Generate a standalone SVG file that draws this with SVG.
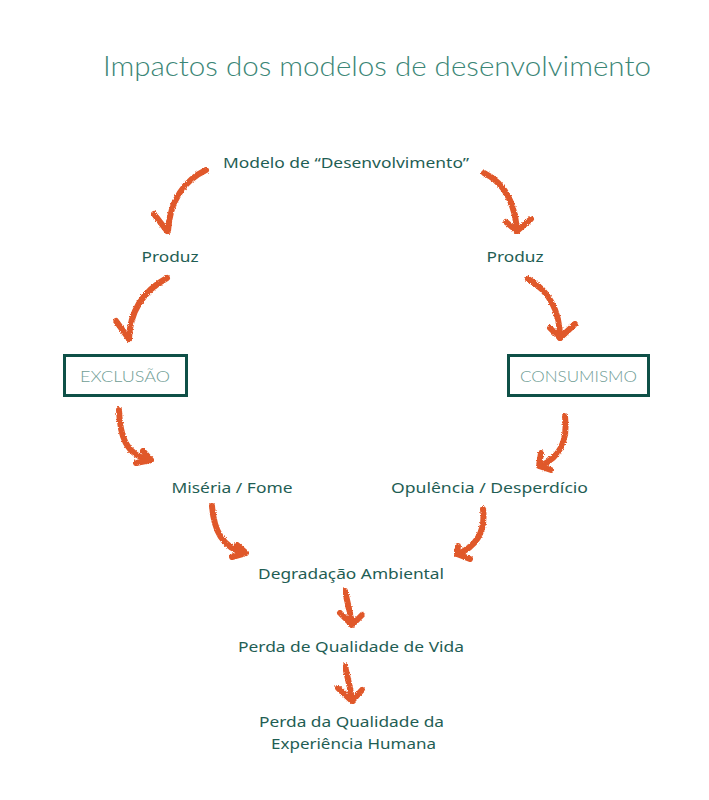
<svg xmlns="http://www.w3.org/2000/svg" width="709" height="800" viewBox="0 0 709 800">
<style>
.t{font-family:"Noto Sans","Liberation Sans",sans-serif;font-size:15px;fill:#1f5e54;text-anchor:middle}
.title{font-family:Lato,"Noto Sans",sans-serif;font-weight:300;font-size:28px;fill:#3b8676}
.bt{font-family:Lato,"Noto Sans",sans-serif;font-weight:300;font-size:16px;fill:#6f9d95;text-anchor:middle}
.box{fill:#fff;stroke:#0f5047;stroke-width:3}
.arr{fill:none;stroke:#e0582a;stroke-width:6;stroke-linecap:round;stroke-linejoin:round;filter:url(#rough)}
</style>
<defs>
<filter id="rough" x="-20%" y="-20%" width="140%" height="140%">
<feTurbulence type="fractalNoise" baseFrequency="0.9" numOctaves="2" seed="3" result="n"/>
<feDisplacementMap in="SourceGraphic" in2="n" scale="3" xChannelSelector="R" yChannelSelector="G"/>
</filter>
</defs>
<rect width="709" height="800" fill="#fff"/>
<text class="title" x="103" y="76" textLength="548" lengthAdjust="spacingAndGlyphs">Impactos dos modelos de desenvolvimento</text>

<g id="connectors">
<g id="a1"><path class="arr" d="M206,170 C185,180 170,200 168,231"/><path class="arr" d="M154,214 L167,231"/></g>
<g id="a2"><path class="arr" d="M484,173 C505,183 515,205 517,231"/><path class="arr" d="M506,222 L517,231 L531,219"/></g>
<g id="a3"><path class="arr" d="M167,278 C145,290 130,310 129,339"/><path class="arr" d="M116,321 L129,339"/></g>
<g id="a4"><path class="arr" d="M528,279 C548,290 560,310 560,338"/><path class="arr" d="M550,328 L560,338 L575,324"/></g>
<g id="a5"><path class="arr" d="M119,410 C120,435 125,455 150,460"/><path class="arr" d="M143,451 L151,460 L136,463"/></g>
<g id="a6"><path class="arr" d="M565,416 C568,440 560,458 540,466"/><path class="arr" d="M541,453 L539,466 L551,470"/></g>
<g id="a7"><path class="arr" d="M212,506 C214,530 222,548 245,553"/><path class="arr" d="M237,545 L246,553 L232,557"/></g>
<g id="a8"><path class="arr" d="M483,509 C486,532 475,548 457,554"/><path class="arr" d="M458,546 L457,554 L470,559"/></g>
<g id="a9"><path class="arr" d="M345,591 C348,605 351,615 352,625"/><path class="arr" d="M340,613 L352,625 L362,615"/></g>
<g id="a10"><path class="arr" d="M345,666 C348,680 351,690 352,701"/><path class="arr" d="M338,688 L352,701 L362,690"/></g>
</g>

<g id="n-modelo"><text class="t" x="346" y="168" textLength="246" lengthAdjust="spacingAndGlyphs">Modelo de “Desenvolvimento”</text></g>
<g id="n-produz1"><text class="t" x="170" y="262" textLength="57" lengthAdjust="spacingAndGlyphs">Produz</text></g>
<g id="n-produz2"><text class="t" x="515" y="262" textLength="57" lengthAdjust="spacingAndGlyphs">Produz</text></g>
<g id="n-exclusao"><rect class="box" x="64.5" y="355.5" width="122" height="40"/><text class="bt" x="125" y="382" textLength="90" lengthAdjust="spacingAndGlyphs">EXCLUSÃO</text></g>
<g id="n-consumismo"><rect class="box" x="508.5" y="355.5" width="140" height="40"/><text class="bt" x="578.5" y="382" textLength="117" lengthAdjust="spacingAndGlyphs">CONSUMISMO</text></g>
<g id="n-miseria"><text class="t" x="232" y="493" textLength="121" lengthAdjust="spacingAndGlyphs">Miséria / Fome</text></g>
<g id="n-opulencia"><text class="t" x="489.5" y="493" textLength="197" lengthAdjust="spacingAndGlyphs">Opulência / Desperdício</text></g>
<g id="n-degradacao"><text class="t" x="351" y="579" textLength="186" lengthAdjust="spacingAndGlyphs">Degradação Ambiental</text></g>
<g id="n-perda-vida"><text class="t" x="351" y="652" textLength="226" lengthAdjust="spacingAndGlyphs">Perda de Qualidade de Vida</text></g>
<g id="n-perda-exp"><text class="t" x="351.5" y="727" textLength="185" lengthAdjust="spacingAndGlyphs">Perda da Qualidade da</text><text class="t" x="353.5" y="749" textLength="165" lengthAdjust="spacingAndGlyphs">Experiência Humana</text></g>
</svg>
